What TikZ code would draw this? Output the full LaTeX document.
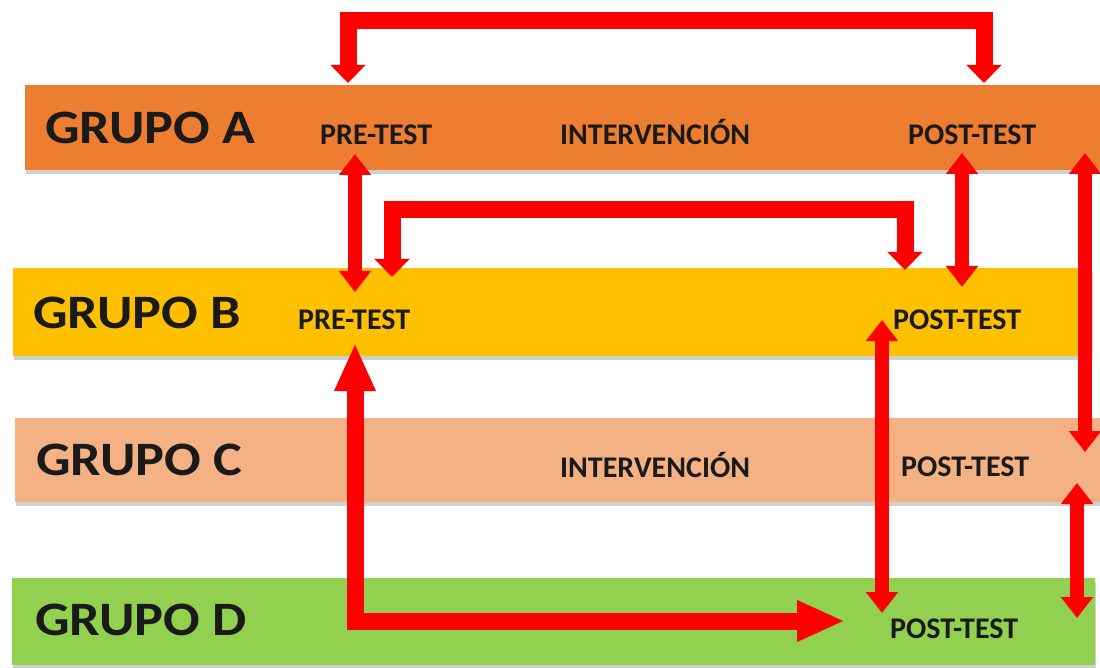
\documentclass[tikz,border=0pt]{standalone}
\usepackage{fontspec}
\setmainfont{Carlito}
\newfontfamily\bigfont[FakeStretch=1.13]{Carlito}
\usetikzlibrary{arrows.meta,shadows}
\definecolor{barA}{HTML}{ED7D31}
\definecolor{barB}{HTML}{FFC000}
\definecolor{barC}{HTML}{F4B183}
\definecolor{barD}{HTML}{92D050}
\definecolor{redarrow}{HTML}{FF0000}
\definecolor{txt}{HTML}{1A1A1A}
\tikzset{
  bar/.style={rectangle, draw=none, anchor=north west, inner sep=0pt,
    drop shadow={shadow xshift=1pt, shadow yshift=-4pt, opacity=0.3, fill=black!60}},
  grp/.style={anchor=base west, inner sep=0pt, text=txt, font=\bigfont\bfseries\fontsize{48}{50}\selectfont},
  lbl/.style={anchor=base west, inner sep=0pt, text=txt, font=\bfseries\fontsize{30}{31}\selectfont},
  link/.style={draw=redarrow, line width=14pt, line join=miter,
    arrows={Triangle[width=31pt,length=21pt]-Triangle[width=31pt,length=21pt]}},
  bracket/.style={draw=redarrow, line width=17pt, line join=miter,
    arrows={Triangle[width=34pt,length=18pt]-Triangle[width=34pt,length=18pt]}},
  larrow/.style={draw=redarrow, line width=17pt, line join=miter,
    arrows={Triangle[width=38pt,length=48pt]-Triangle[width=38pt,length=48pt]}}
}
\begin{document}
\begin{tikzpicture}[x=1pt,y=-1pt]
\useasboundingbox[fill=white] (0,0) rectangle (1100,668);
% bars
\node[bar, fill=barA, minimum width=1075pt, minimum height=85pt] (barA) at (25,85) {};
\node[bar, fill=barB, minimum width=1079pt, minimum height=88pt] (barB) at (13,268) {};
\node[bar, fill=barC, minimum width=1085pt, minimum height=84pt] (barC) at (15,418) {};
\node[bar, fill=barD, minimum width=1083pt, minimum height=87pt] (barD) at (12,578) {};
% labels
\node[grp] (gA) at (45,144) {GRUPO A};
\node[lbl] (preA) at (320,145) {PRE-TEST};
\node[lbl] (intA) at (560,145) {INTERVENCIÓN};
\node[lbl] (postA) at (908,145) {POST-TEST};
\node[grp] (gB) at (33,328) {GRUPO B};
\node[lbl] (preB) at (298,329) {PRE-TEST};
\node[lbl] (postB) at (893,329) {POST-TEST};
\node[grp] (gC) at (36,475) {GRUPO C};
\node[lbl] (intC) at (560,477) {INTERVENCIÓN};
\node[lbl] (postC) at (901,476) {POST-TEST};
\node[grp] (gD) at (35,635) {GRUPO D};
\node[lbl] (postD) at (890,638) {POST-TEST};
% connector end points
\coordinate (t1) at (348,83);
\coordinate (t2) at (984,83);
\coordinate (a1) at (355,154);
\coordinate (b1) at (355,292);
\coordinate (b2) at (392,277);
\coordinate (b3) at (905,270);
\coordinate (a2) at (962,153);
\coordinate (b4) at (962,287);
\coordinate (a3) at (1085,153);
\coordinate (c1) at (1085,452);
\coordinate (b5) at (882,320);
\coordinate (d1) at (882,613);
\coordinate (c2) at (1077,483);
\coordinate (d2) at (1077,618);
\coordinate (b6) at (355,343);
\coordinate (d3) at (845,621);
% arrows
\draw[bracket] (t1) -- (t1 |- 0,21) -- (t2 |- 0,21) -- (t2);
\draw[bracket] (b2) -- (b2 |- 0,210) -- (b3 |- 0,210) -- (b3);
\draw[link] (a1) -- (b1);
\draw[link] (a2) -- (b4);
\draw[link] (a3) -- (c1);
\draw[link] (b5) -- (d1);
\draw[link] (c2) -- (d2);
\draw[larrow] (b6) -- (b6 |- d3) -- (d3);
\end{tikzpicture}
\end{document}
